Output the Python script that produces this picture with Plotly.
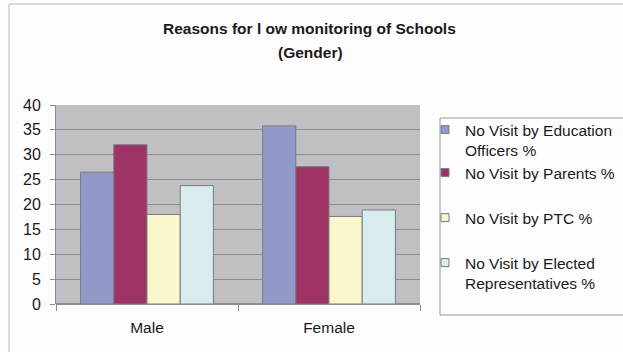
import plotly.graph_objects as go

categories = ["Male", "Female"]
series_names = [
    "No Visit by Education<br>Officers %",
    "No Visit by Parents %",
    "No Visit by PTC %",
    "No Visit by Elected<br>Representatives %",
]
edu_officers = [26.5, 35.8]
parents = [32.0, 27.6]
ptc = [18.0, 17.6]
elected = [23.8, 18.9]
colors = ["#9099c8", "#9e3466", "#faf7cc", "#d8ecee"]
y_ticks = [0, 5, 10, 15, 20, 25, 30, 35, 40]

W, H = 623, 352
L, R, T, B = 56, 203, 105, 48
pw, ph = W - L - R, H - T - B

def px_x(x):
    return (x - L) / pw

def px_y(y):
    return (H - B - y) / ph

fig = go.Figure()
values = [edu_officers, parents, ptc, elected]
legend_ids = ["legend", "legend2", "legend3", "legend4"]
legend_centers = [140, 173, 218, 273]
for name, vals, col in zip(series_names, values, colors):
    fig.add_trace(go.Bar(
        x=categories, y=vals, name=name, showlegend=False,
        marker=dict(color=col, line=dict(color="#7a7a80", width=1)),
    ))
# legend-only entries with small square swatches
for name, col, lid in zip(series_names, colors, legend_ids):
    fig.add_trace(go.Scatter(
        x=[None], y=[None], name=name, mode="markers", legend=lid,
        marker=dict(symbol="square", size=8, color=col, line=dict(color="#7a7a80", width=1)),
        hoverinfo="skip",
    ))

font_family = "Liberation Sans, Arial, sans-serif"
text_col = "#1a1a1a"
layout_legends = {}
for lid, cy in zip(legend_ids, legend_centers):
    layout_legends[lid] = dict(
        x=px_x(425), xanchor="left", y=px_y(cy), yanchor="middle",
        bgcolor="rgba(0,0,0,0)", borderwidth=0, valign="top",
        font=dict(family=font_family, size=15.5, color=text_col),
        itemwidth=30, itemclick=False, itemdoubleclick=False,
    )

fig.update_layout(
    width=W, height=H,
    margin=dict(l=L, r=R, t=T, b=B, autoexpand=False),
    paper_bgcolor="#fdfdfd",
    plot_bgcolor="#c0c0c4",
    barmode="group", bargap=0.27, bargroupgap=0,
    showlegend=True,
    **layout_legends,
    xaxis=dict(
        type="category", showgrid=False,
        ticks="outside", tickson="boundaries", ticklen=6, tickcolor="#8c8c90",
        showline=False,
        tickfont=dict(family=font_family, size=15.5, color=text_col),
        ticklabelstandoff=12,
    ),
    yaxis=dict(
        range=[0, 40], tickvals=y_ticks, showgrid=True, gridcolor="#8c8c90",
        gridwidth=1, zeroline=True, zerolinecolor="#8c8c90",
        showline=True, linecolor="#8c8c90", linewidth=1,
        ticks="outside", ticklen=5, tickcolor="#8c8c90",
        tickfont=dict(family=font_family, size=16, color=text_col),
        ticklabelstandoff=6,
    ),
    annotations=[
        dict(text="<b>Reasons for l ow monitoring of Schools</b>", xref="paper", yref="paper",
             x=px_x(309), y=px_y(28), xanchor="center", yanchor="middle", showarrow=False,
             font=dict(family=font_family, size=15.5, color=text_col)),
        dict(text="<b>(Gender)</b>", xref="paper", yref="paper",
             x=px_x(310), y=px_y(53), xanchor="center", yanchor="middle", showarrow=False,
             font=dict(family=font_family, size=15.5, color=text_col)),
    ],
    shapes=[
        dict(type="rect", xref="paper", yref="paper",
             x0=px_x(9), x1=px_x(640), y0=px_y(360), y1=px_y(4),
             line=dict(color="#b8b8b8", width=1), fillcolor="rgba(0,0,0,0)", layer="below"),
        dict(type="rect", xref="paper", yref="paper",
             x0=px_x(440), x1=px_x(640), y0=px_y(315), y1=px_y(118),
             line=dict(color="#9a9a9a", width=1), fillcolor="rgba(0,0,0,0)"),
    ],
)

fig.write_html("out.html")
